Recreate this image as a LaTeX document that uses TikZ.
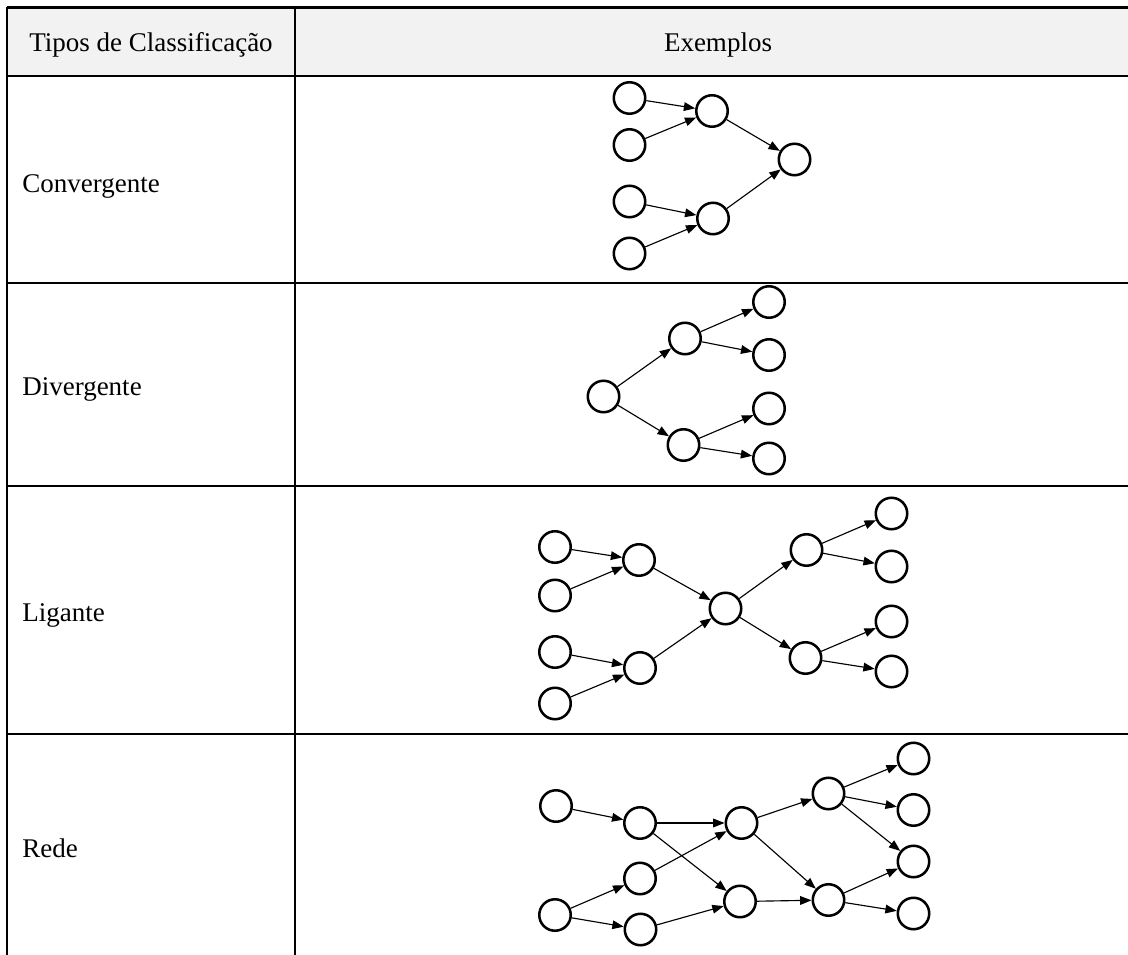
\documentclass[tikz,border=0pt]{standalone}
\usepackage{fontspec}
\setmainfont{Liberation Serif}
\usetikzlibrary{arrows.meta}
\definecolor{headgray}{HTML}{F2F2F2}
\begin{document}
\begin{tikzpicture}[x=0.75pt,y=-0.75pt,
  vtx/.style={circle,draw,line width=1.9pt,minimum size=23.6pt,inner sep=0pt},
  arr/.style={-{Triangle[length=8.5pt,width=6.5pt]},line width=0.85pt},
  rule/.style={line width=2pt},
  txt/.style={inner sep=0pt,font=\fontsize{20.25}{24}\selectfont},
  lbl/.style={txt,anchor=base west}]
\useasboundingbox (0,0) rectangle (1128,955);
\clip (0,0) rectangle (1128,955);

% table frame
\fill[headgray] (7,7.5) rectangle (1141,76);
\foreach \yy in {7.5,76,283,486,734}
  \draw[rule] (7,\yy) -- (1141,\yy);
\draw[rule] (7,7.5) -- (7,965);
\draw[rule] (295,7.5) -- (295,965);

% header and row labels
\node[txt,anchor=base] (h1) at (151,52) {Tipos de Classificação};
\node[txt,anchor=base] (h2) at (718,52) {Exemplos};
\node[lbl] (t1) at (22,193) {Convergente};
\node[lbl] (t2) at (22,396) {Divergente};
\node[lbl] (t3) at (22,621) {Ligante};
\node[lbl] (t4) at (22,857) {Rede};

% convergente
\node[vtx] (A1) at (629.5,98) {};
\node[vtx] (A2) at (629.5,145) {};
\node[vtx] (A3) at (629.5,201.5) {};
\node[vtx] (A4) at (629.5,253.5) {};
\node[vtx] (B1) at (712,111) {};
\node[vtx] (B2) at (713,218.5) {};
\node[vtx] (C)  at (794.5,159.5) {};
\draw[arr] (A1) -- (B1);
\draw[arr] (A2) -- (B1);
\draw[arr] (A3) -- (B2);
\draw[arr] (A4) -- (B2);
\draw[arr] (B1) -- (C);
\draw[arr] (B2) -- (C);

% divergente
\node[vtx] (D0) at (603.5,396.5) {};
\node[vtx] (D1) at (685,338.5) {};
\node[vtx] (D2) at (683.5,445) {};
\node[vtx] (E1) at (769,302) {};
\node[vtx] (E2) at (769,355) {};
\node[vtx] (E3) at (769,408.5) {};
\node[vtx] (E4) at (769,458.5) {};
\draw[arr] (D0) -- (D1);
\draw[arr] (D0) -- (D2);
\draw[arr] (D1) -- (E1);
\draw[arr] (D1) -- (E2);
\draw[arr] (D2) -- (E3);
\draw[arr] (D2) -- (E4);

% ligante
\node[vtx] (L1) at (555,547) {};
\node[vtx] (L2) at (555,595.5) {};
\node[vtx] (L3) at (555,652) {};
\node[vtx] (L4) at (555,703.5) {};
\node[vtx] (M1) at (639,560) {};
\node[vtx] (M2) at (640,668) {};
\node[vtx] (N)  at (725.5,608.5) {};
\node[vtx] (P1) at (806.5,550) {};
\node[vtx] (P2) at (805.5,658) {};
\node[vtx] (Q1) at (891.5,513.5) {};
\node[vtx] (Q2) at (891.5,566.5) {};
\node[vtx] (Q3) at (891.5,621.5) {};
\node[vtx] (Q4) at (891.5,671.5) {};
\draw[arr] (L1) -- (M1);
\draw[arr] (L2) -- (M1);
\draw[arr] (L3) -- (M2);
\draw[arr] (L4) -- (M2);
\draw[arr] (M1) -- (N);
\draw[arr] (M2) -- (N);
\draw[arr] (N) -- (P1);
\draw[arr] (N) -- (P2);
\draw[arr] (P1) -- (Q1);
\draw[arr] (P1) -- (Q2);
\draw[arr] (P2) -- (Q3);
\draw[arr] (P2) -- (Q4);

% rede
\node[vtx] (R1) at (556,806) {};
\node[vtx] (R2) at (555,915) {};
\node[vtx] (S1) at (640,823) {};
\node[vtx] (S2) at (640,878.5) {};
\node[vtx] (S3) at (640.5,929.5) {};
\node[vtx] (T1) at (741.5,823) {};
\node[vtx] (T2) at (740,901.5) {};
\node[vtx] (U1) at (828.5,793.5) {};
\node[vtx] (U2) at (828.5,900) {};
\node[vtx] (V1) at (913.5,758.5) {};
\node[vtx] (V2) at (913.5,810) {};
\node[vtx] (V3) at (913.5,861.5) {};
\node[vtx] (V4) at (913.5,913.5) {};
\draw[arr] (R1) -- (S1);
\draw[arr] (R2) -- (S2);
\draw[arr] (R2) -- (S3);
\draw[arr] (S1) -- (T1);
\draw[arr] (S1) -- (T2);
\draw[arr] (S2) -- (T1);
\draw[arr] (S3) -- (T2);
\draw[arr] (T1) -- (U1);
\draw[arr] (T1) -- (U2);
\draw[arr] (T2) -- (U2);
\draw[arr] (U1) -- (V1);
\draw[arr] (U1) -- (V2);
\draw[arr] (U1) -- (V3);
\draw[arr] (U2) -- (V3);
\draw[arr] (U2) -- (V4);
\end{tikzpicture}
\end{document}
